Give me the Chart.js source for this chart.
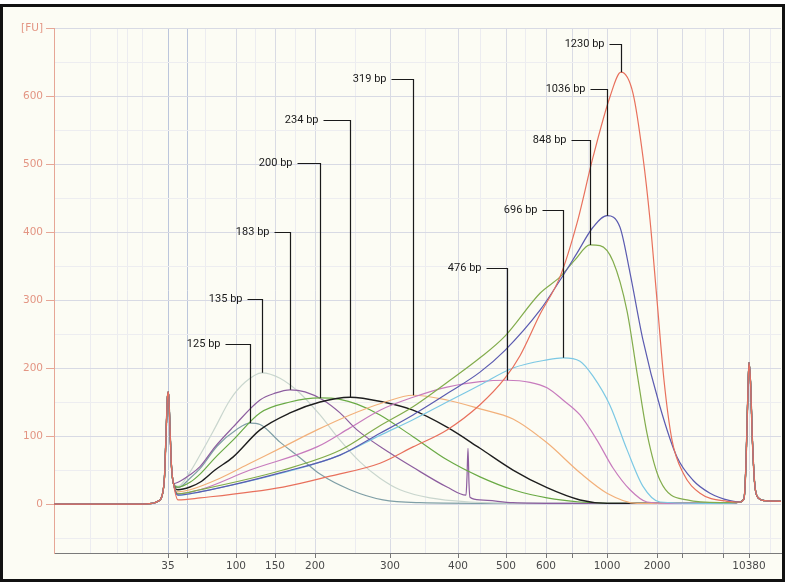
<!DOCTYPE html>
<html>
<head>
<meta charset="utf-8">
<script src="https://cdn.jsdelivr.net/npm/chart.js@4.4.1/dist/chart.umd.min.js"></script>
<style>
  html, body { margin: 0; padding: 0; background: #fff; }
  canvas { display: block; }
</style>
</head>
<body>
<canvas id="trace" width="785" height="583"></canvas>
<script>
// Electropherogram, fluorescence [FU] against migration time (s)
// each sample is a list of [time, FU] readings

// markers shared by every run (35 bp lower, 10380 bp upper)
const lowerMarker = [[5.4,0],[14.0,0],[15.2,1],[15.8,4],[16.2,12],[16.45,40],[16.6,100],[16.75,158],[16.85,165],[17.0,110],[17.15,55],[17.35,30]];
const upperMarker = [[74.0,3],[74.4,8],[74.6,60],[74.8,170],[74.9,208],[75.05,180],[75.25,90],[75.5,25],[75.9,8],[76.5,5],[78.1,4]];

const bp125 = [[17.8,24],[19.0,38],[20.0,52],[21.7,85],[23.7,110],[25.0,119],[26.0,117],[28.0,91],[30.0,68],[32.0,44],[35.0,21],[38.3,6],[42.0,2],[50.0,1],[73.0,1]];
const bp135 = [[17.8,26],[19.0,47],[20.0,72],[21.5,112],[23.0,153],[24.5,179],[26.2,193],[28.0,185],[30.0,163],[32.0,131],[34.0,94],[36.0,62],[38.0,38],[40.0,21],[43.0,9],[47.0,3],[52.0,1],[73.0,1]];
const bp183 = [[17.8,32],[19.0,43],[20.0,55],[21.5,84],[23.3,113],[26.0,153],[27.5,163],[29.0,168],[30.5,165],[32.3,153],[34.0,134],[35.7,109],[39.0,75],[41.3,54],[44.7,25],[46.6,13],[46.7,40],[46.8,82],[46.9,30],[47.0,10],[48.0,6],[51.3,2],[56.0,1],[73.0,1]];
const bp200 = [[17.8,25],[19.0,32],[20.0,44],[21.5,68],[23.3,94],[26.0,134],[29.0,150],[32.0,156],[34.0,154],[35.7,147],[38.0,131],[41.3,99],[44.7,65],[48.0,40],[51.3,21],[54.7,9],[58.0,3],[62.0,1],[73.0,1]];
const bp234 = [[17.8,21],[19.0,25],[20.0,32],[21.5,50],[23.3,69],[26.0,109],[29.0,134],[32.0,150],[35.0,157],[38.3,150],[41.3,138],[44.7,113],[48.0,82],[51.3,50],[54.7,24],[58.0,6],[60.7,1],[73.0,1]];
const bp319 = [[17.8,18],[19.0,21],[22.0,38],[25.0,60],[28.3,84],[31.7,109],[35.0,131],[38.3,149],[41.3,160],[44.7,153],[48.0,140],[51.3,125],[54.7,90],[58.0,46],[60.7,16],[63.7,1],[73.0,1]];
const bp476 = [[17.8,15],[20.0,21],[25.0,50],[31.7,84],[35.0,112],[38.0,138],[41.3,157],[44.7,172],[48.0,180],[50.7,182],[53.0,179],[54.7,171],[56.3,153],[58.0,131],[59.7,94],[61.3,53],[63.0,21],[64.7,3],[67.0,1],[73.0,1]];
const bp696 = [[17.8,13],[20.0,18],[28.3,46],[34.0,72],[38.0,101],[41.3,124],[44.7,150],[48.0,175],[51.3,200],[54.7,212],[56.3,215],[58.0,210],[59.3,188],[61.0,145],[62.7,80],[64.3,26],[66.0,3],[70.0,1],[73.0,1]];
const bp848 = [[17.8,15],[20.0,21],[28.3,50],[34.0,79],[38.0,115],[41.3,143],[45.0,182],[48.0,215],[50.5,247],[54.0,310],[56.0,334],[57.5,359],[59.0,381],[60.0,380],[61.3,357],[62.7,284],[63.7,193],[64.7,104],[66.0,35],[68.7,6],[72.0,2],[73.0,2]];
const bp1036 = [[17.8,13],[20.0,18],[28.3,47],[34.0,72],[38.0,104],[41.3,131],[45.0,165],[48.0,194],[50.5,226],[54.0,285],[56.0,329],[57.7,369],[59.3,407],[60.7,424],[62.0,407],[63.0,340],[64.3,241],[66.0,143],[67.7,69],[69.3,35],[71.0,16],[73.0,5]];
const bp1230 = [[17.8,6],[20.0,9],[28.3,25],[33.0,41],[38.0,60],[41.3,84],[44.7,109],[48.0,146],[50.5,185],[52.0,218],[54.0,279],[56.0,334],[57.7,413],[59.3,510],[61.0,599],[62.1,635],[63.3,604],[64.3,510],[65.0,418],[65.7,300],[66.4,182],[67.2,94],[68.3,46],[70.0,16],[72.7,4]];

const sizeLabels = ['125 bp','135 bp','183 bp','200 bp','234 bp','319 bp','476 bp','696 bp','848 bp','1036 bp','1230 bp'];
const runs = [bp125, bp135, bp183, bp200, bp234, bp319, bp476, bp696, bp848, bp1036, bp1230];
const runColors = ['#7f9fa6','#c9d6ce','#8d5e9f','#6aaa45','#1e1e1e','#f2b07a','#c77bbd','#7cc8e4','#82ac4c','#5b5bb0','#e8705c'];

// x-axis: ladder sizes at their migration times
const tickTimes = [16.8, 23.6, 27.5, 31.5, 39.0, 45.8, 50.6, 54.6, 60.7, 65.7, 74.9];
const tickLabels = ['35','100','150','200','300','400','500','600','1000','2000','10380'];
const plainTickTimes = [18.7, 57.2, 68.2, 72.3];
const faintTimes = [9.0, 11.7, 12.7, 14.2, 20.5, 25.5, 29.5, 35.5, 42.5, 48.0, 52.5, 58.8, 63.0, 70.5, 77.0];
const yTicks = [-50,0,50,100,150,200,250,300,350,400,450,500,550,600,650,700];

// leader line layout (FU level of the label, leg length in px)
const labelLevel = [235, 301, 400, 501, 565, 625, 347, 432, 535, 610, 676];
const labelLeg = [25, 15, 16, 23, 27, 22, 21, 21, 19, 17, 12];

const toPoints = arr => arr.map(p => ({ x: p[0], y: p[1] }));
const tickText = new Map(tickTimes.map((t, i) => [t, tickLabels[i]]));
const allXTicks = [...tickTimes, ...plainTickTimes, ...faintTimes].sort((a, b) => a - b);
const isFaint = v => faintTimes.includes(v);

const datasets = runs.map((r, i) => ({
  label: sizeLabels[i],
  data: toPoints([...lowerMarker, ...r, ...upperMarker]),
  borderColor: runColors[i],
  borderWidth: runColors[i] === '#1e1e1e' ? 1.4 : 1.2,
  pointRadius: 0,
  cubicInterpolationMode: 'monotone',
  fill: false,
})).reverse();

const framePlugin = {
  id: 'frame',
  beforeDraw(chart) {
    const c = chart.ctx;
    c.save();
    c.fillStyle = '#ffffff';
    c.fillRect(0, 0, chart.width, chart.height);
    c.fillStyle = '#fcfcf4';
    c.fillRect(3, 7, chart.width - 6, chart.height - 11);
    c.restore();
  },
  afterDraw(chart) {
    const c = chart.ctx;
    c.save();
    c.strokeStyle = '#111';
    c.lineWidth = 3;
    c.strokeRect(1.5, 5.5, chart.width - 3, chart.height - 8);
    c.restore();
  }
};

const leaderPlugin = {
  id: 'leaders',
  afterDatasetsDraw(chart) {
    const { ctx, scales: { x, y } } = chart;
    ctx.save();
    ctx.strokeStyle = '#1a1a1a';
    ctx.fillStyle = '#1a1a1a';
    ctx.lineWidth = 1.2;
    ctx.font = '11px Roboto';
    ctx.textAlign = 'right';
    ctx.textBaseline = 'middle';
    sizeLabels.forEach((txt, i) => {
      let peak = runs[i][0];
      runs[i].forEach(p => { if (p[1] > peak[1]) peak = p; });
      const px = Math.round(x.getPixelForValue(peak[0])) + 0.5;
      const py = y.getPixelForValue(peak[1]);
      const ly = Math.round(y.getPixelForValue(labelLevel[i])) + 0.5;
      ctx.beginPath();
      ctx.moveTo(px - labelLeg[i], ly);
      ctx.lineTo(px, ly);
      ctx.lineTo(px, py);
      ctx.stroke();
      ctx.fillText(txt, px - labelLeg[i] - 5, ly);
    });
    ctx.restore();
  }
};

new Chart(document.getElementById('trace'), {
  type: 'line',
  data: { datasets },
  plugins: [framePlugin, leaderPlugin],
  options: {
    responsive: false,
    devicePixelRatio: 1,
    animation: false,
    layout: { padding: { left: 0, right: 4, top: 28, bottom: 0 } },
    plugins: { legend: { display: false }, tooltip: { enabled: false } },
    scales: {
      x: {
        type: 'linear',
        min: 5.4,
        max: 78.1,
        afterBuildTicks: s => { s.ticks = allXTicks.map(v => ({ value: v })); },
        afterFit: s => { s.height = 30; },
        border: { color: '#7a7a7a', width: 1 },
        grid: {
          color: c => isFaint(c.tick.value) ? '#ececf0' : (c.tick.value === 16.8 || c.tick.value === 18.7 ? '#bcc6dc' : '#d9dbe4'),
          tickColor: c => isFaint(c.tick.value) ? 'rgba(0,0,0,0)' : '#777',
          tickLength: 5,
        },
        ticks: {
          autoSkip: false,
          maxRotation: 0,
          padding: 2,
          color: '#4a4a4a',
          font: { family: 'DejaVu Sans', size: 10.5 },
          callback: v => tickText.get(v) || '',
        },
      },
      y: {
        type: 'linear',
        min: -72,
        max: 700,
        afterBuildTicks: s => { s.ticks = yTicks.map(v => ({ value: v })); },
        afterFit: s => { s.width = 54; },
        border: { color: '#e6a696', width: 1 },
        grid: {
          color: c => (c.tick.value % 100 === 0) ? '#d8dae4' : '#ededf0',
          tickColor: c => (c.tick.value % 100 === 0 && c.tick.value >= 0) ? '#e6a696' : 'rgba(0,0,0,0)',
          tickLength: 8,
        },
        ticks: {
          padding: 3,
          color: '#e39583',
          font: { family: 'DejaVu Sans', size: 10.5 },
          callback: v => v === 700 ? '[FU]' : (v % 100 === 0 && v >= 0 ? String(v) : ''),
        },
      },
    },
  },
});
</script>
</body>
</html>
